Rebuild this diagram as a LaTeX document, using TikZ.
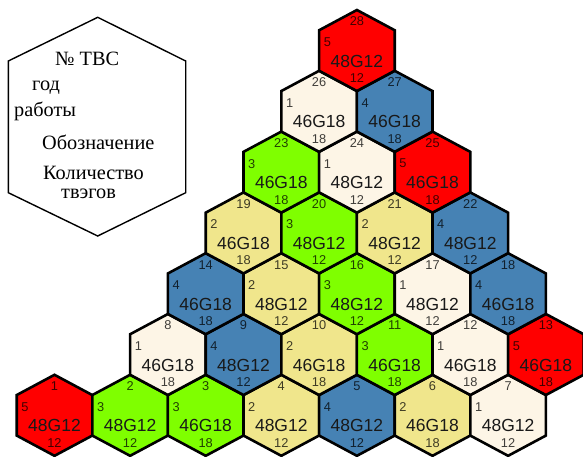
\documentclass[tikz,border=0pt]{standalone}
\usepackage{fontspec}
\setmainfont{Liberation Serif}
\newfontfamily\hexfont{Liberation Sans}
\usetikzlibrary{calc}
\definecolor{yc1}{HTML}{FDF5E6}
\definecolor{yc2}{HTML}{F0E68C}
\definecolor{yc3}{HTML}{7FFF00}
\definecolor{yc4}{HTML}{4682B4}
\definecolor{yc5}{HTML}{FF0000}
\begin{document}
\begin{tikzpicture}[x=1pt,y=-1pt,
  hexline/.style={line width=2.6pt, line join=miter},
  legline/.style={line width=1.4pt, line join=miter},
  maintxt/.style={font=\hexfont\fontsize{17.5}{18}\selectfont, inner sep=0pt, text=black!90},
  smalltxt/.style={font=\hexfont\fontsize{12.8}{13}\selectfont, inner sep=0pt, text=black, text opacity=0.75},
  legtxt/.style={font=\fontsize{20.3}{21}\selectfont, inner sep=0pt, anchor=base west}]
\useasboundingbox (0,0) rectangle (583,456);
% legend hexagon
\draw[legline] (97.7,17.3) -- (185.7,61) -- (185.7,192.7) -- (97.7,236) -- (8.3,192.7) -- (8.3,61) -- cycle;
\node[legtxt] (l1) at (55,65) {№ ТВС};
\node[legtxt] (l2) at (32,90.5) {год};
\node[legtxt] (l3) at (14,116) {работы};
\node[legtxt] (l4) at (42,149) {Обозначение};
\node[legtxt, text depth=0pt] (l5) at (43,179) {Количество};
\node[legtxt, text height=0.45em] (l6) at (61,198) {твэгов};
% cells
\foreach \hn/\hc/\hr/\yr/\hty/\hk in {
  1/0/1/5/48G12/12, 2/2/1/3/48G12/12, 3/4/1/3/46G18/18, 4/6/1/2/48G12/12,
  5/8/1/4/48G12/12, 6/10/1/2/46G18/18, 7/12/1/1/48G12/12,
  8/3/2/1/46G18/18, 9/5/2/4/48G12/12, 10/7/2/2/46G18/18, 11/9/2/3/46G18/18,
  12/11/2/1/46G18/18, 13/13/2/5/46G18/18,
  14/4/3/4/46G18/18, 15/6/3/2/48G12/12, 16/8/3/3/48G12/12, 17/10/3/1/48G12/12,
  18/12/3/4/46G18/18,
  19/5/4/2/46G18/18, 20/7/4/3/48G12/12, 21/9/4/2/48G12/12, 22/11/4/4/48G12/12,
  23/6/5/3/46G18/18, 24/8/5/1/48G12/12, 25/10/5/5/46G18/18,
  26/7/6/1/46G18/18, 27/9/6/4/46G18/18,
  28/8/7/5/48G12/12}{
  \pgfmathsetmacro\cx{54.5+37.8*\hc}
  \pgfmathsetmacro\cy{415.3-60.8*(\hr-1)}
  \coordinate (h\hn) at (\cx,\cy);
  \draw[hexline, fill=yc\yr, shift={(h\hn)}] (0,-40.5) -- (37.8,-20.25) -- (37.8,20.25) -- (0,40.5) -- (-37.8,20.25) -- (-37.8,-20.25) -- cycle;
  \node[smalltxt] (h\hn-n) at ($(h\hn)+(0,-29)$) {\hn};
  \node[smalltxt] (h\hn-y) at ($(h\hn)+(-29.5,-8.5)$) {\yr};
  \node[maintxt] (h\hn-t) at ($(h\hn)+(0,10.5)$) {\hty};
  \node[smalltxt] (h\hn-k) at ($(h\hn)+(0,27.5)$) {\hk};
}
\end{tikzpicture}
\end{document}
